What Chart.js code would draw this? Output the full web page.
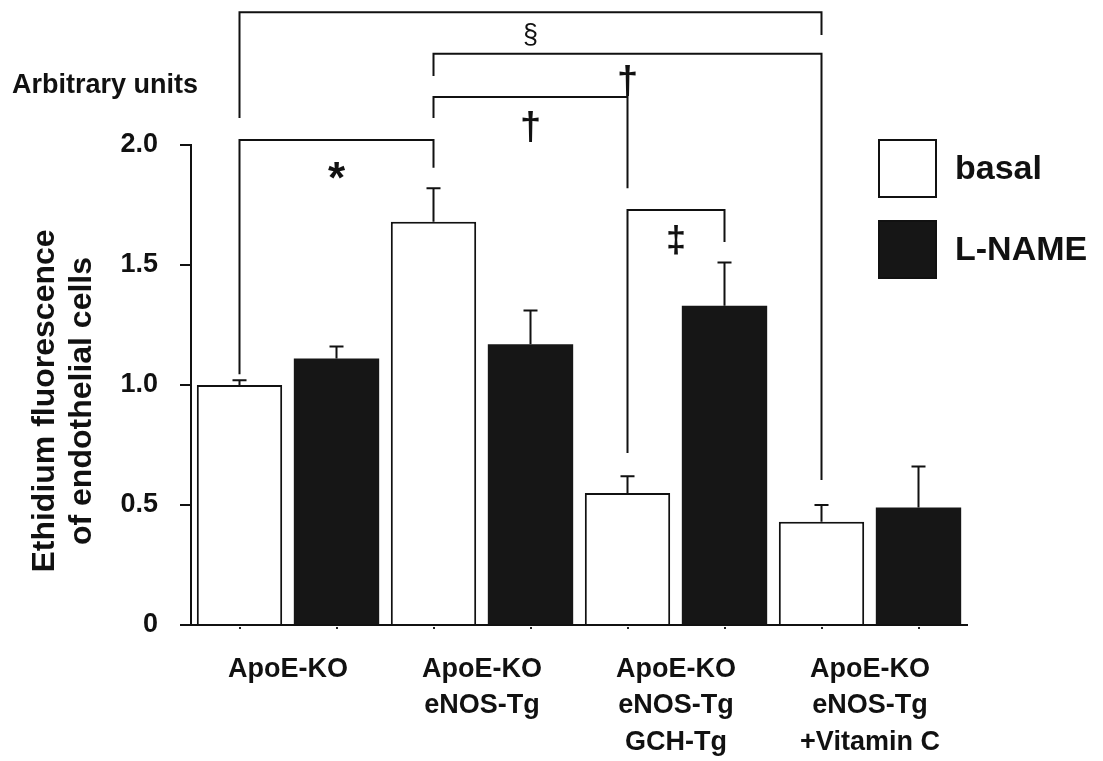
<!DOCTYPE html>
<html>
<head>
<meta charset="utf-8">
<script src="https://cdn.jsdelivr.net/npm/chart.js@4.4.1/dist/chart.umd.min.js"></script>
<style>
  html, body { margin: 0; padding: 0; background: #fff; }
  #wrap { width: 1103px; height: 761px; }
</style>
</head>
<body>
<div id="wrap"><canvas id="c" width="1103" height="761"></canvas></div>
<script>
// ---- data ----
const categories = [
  ["ApoE-KO"],
  ["ApoE-KO", "eNOS-Tg"],
  ["ApoE-KO", "eNOS-Tg", "GCH-Tg"],
  ["ApoE-KO", "eNOS-Tg", "+Vitamin C"]
];
const seriesNames = ["basal", "L-NAME"];
const basal = [1.00, 1.68, 0.55, 0.43];
const basalErr = [0.02, 0.14, 0.07, 0.07];
const lname = [1.11, 1.17, 1.33, 0.49];
const lnameErr = [0.05, 0.14, 0.18, 0.17];
const yTicks = [0, 0.5, 1.0, 1.5, 2.0];
const yTitle = ["Ethidium fluorescence", "of endothelial cells"];
const unitsLabel = "Arbitrary units";

// significance brackets: from bar [dataset, index] to bar [dataset, index]
const sigMarks = ["§", "†", "†", "*", "‡"];
const sigFrom = [[0, 0], [0, 1], [0, 1], [0, 0], [0, 2]];
const sigTo = [[0, 3], [0, 3], [0, 2], [0, 1], [1, 2]];
// bracket levels in axis units (top line, left leg end, right leg end, mark centre)
const sigLevel = [2.553, 2.380, 2.200, 2.021, 1.729];
const sigLegFrom = [2.112, 2.288, 2.112, 1.045, 0.717];
const sigLegTo = [2.458, 0.604, 1.820, 1.905, 1.596];
const sigMarkAt = [2.455, 2.262, 2.070, 1.885, 1.596];

const FONT = "'Liberation Sans', Arial, Helvetica, sans-serif";

const errorBars = {
  id: 'errorBars',
  afterDatasetsDraw(chart) {
    const ctx = chart.ctx;
    const ys = chart.scales.y;
    chart.data.datasets.forEach((ds, di) => {
      const meta = chart.getDatasetMeta(di);
      meta.data.forEach((bar, i) => {
        const top = ys.getPixelForValue(ds.data[i] + ds.errors[i]);
        ctx.save();
        ctx.strokeStyle = '#111';
        ctx.lineWidth = 2;
        ctx.beginPath();
        ctx.moveTo(bar.x, bar.y);
        ctx.lineTo(bar.x, top);
        ctx.moveTo(bar.x - 7, top);
        ctx.lineTo(bar.x + 7, top);
        ctx.stroke();
        ctx.restore();
      });
    });
  }
};

const extras = {
  id: 'extras',
  afterDraw(chart) {
    const ctx = chart.ctx;
    const ys = chart.scales.y;
    const area = chart.chartArea;
    const barX = (p) => chart.getDatasetMeta(p[0]).data[p[1]].x;

    // small tick dots under each bar
    ctx.save();
    ctx.fillStyle = '#222';
    chart.data.datasets.forEach((ds, di) => {
      chart.getDatasetMeta(di).data.forEach(bar => {
        ctx.fillRect(Math.round(bar.x) - 1, area.bottom + 2, 2, 2);
      });
    });
    ctx.restore();

    // brackets
    ctx.save();
    ctx.strokeStyle = '#111';
    ctx.lineWidth = 2;
    ctx.fillStyle = '#111';
    ctx.textAlign = 'center';
    ctx.textBaseline = 'middle';
    for (let k = 0; k < sigMarks.length; k++) {
      const x1 = barX(sigFrom[k]);
      const x2 = barX(sigTo[k]);
      const yL = ys.getPixelForValue(sigLevel[k]);
      const y1 = ys.getPixelForValue(sigLegFrom[k]);
      const y2 = ys.getPixelForValue(sigLegTo[k]);
      ctx.beginPath();
      ctx.moveTo(x1, y1);
      ctx.lineTo(x1, yL);
      ctx.lineTo(x2, yL);
      ctx.lineTo(x2, y2);
      ctx.stroke();
      const m = sigMarks[k];
      let f = 'bold 38px ' + FONT;
      if (m === '‡') f = 'bold 36px ' + FONT;
      if (m === '§') f = '27px ' + FONT;
      if (m === '*') f = 'bold 44px ' + FONT;
      ctx.font = f;
      const my = ys.getPixelForValue(sigMarkAt[k]) + (m === '*' ? 8 : 0);
      ctx.fillText(m, (x1 + x2) / 2, my);
    }
    ctx.restore();

    // "Arbitrary units"
    ctx.save();
    ctx.fillStyle = '#111';
    ctx.font = 'bold 27px ' + FONT;
    ctx.textAlign = 'left';
    ctx.textBaseline = 'middle';
    ctx.fillText(unitsLabel, 12, 86);
    ctx.restore();

    // y axis title (rotated, two lines)
    ctx.save();
    ctx.fillStyle = '#111';
    ctx.font = 'bold 32px ' + FONT;
    ctx.textAlign = 'center';
    ctx.textBaseline = 'middle';
    ctx.translate(45, 401);
    ctx.rotate(-Math.PI / 2);
    ctx.fillText(yTitle[0], 0, 0);
    ctx.fillText(yTitle[1], 0, 37);
    ctx.restore();

    // legend
    ctx.save();
    chart.data.datasets.forEach((ds, di) => {
      const bx = 879, by = 140 + di * 81, s = 57;
      ctx.fillStyle = ds.backgroundColor;
      ctx.fillRect(bx, by, s, s);
      ctx.strokeStyle = '#111';
      ctx.lineWidth = 2;
      ctx.strokeRect(bx, by, s, s);
      ctx.fillStyle = '#111';
      ctx.font = 'bold 34px ' + FONT;
      ctx.textAlign = 'left';
      ctx.textBaseline = 'middle';
      ctx.fillText(ds.label, 955, by + s / 2 + 1);
    });
    ctx.restore();
  }
};

new Chart(document.getElementById('c'), {
  type: 'bar',
  data: {
    labels: categories,
    datasets: [
      {
        label: seriesNames[0],
        data: basal,
        errors: basalErr,
        backgroundColor: '#ffffff',
        borderColor: '#111111',
        borderWidth: 2,
        borderSkipped: 'bottom'
      },
      {
        label: seriesNames[1],
        data: lname,
        errors: lnameErr,
        backgroundColor: '#161616',
        borderColor: '#161616',
        borderWidth: 0
      }
    ]
  },
  options: {
    responsive: false,
    animation: false,
    devicePixelRatio: 1,
    layout: { padding: { top: 145, right: 136, left: 0, bottom: 0 } },
    categoryPercentage: 1.0,
    barPercentage: 0.88,
    plugins: {
      legend: { display: false },
      tooltip: { enabled: false },
      title: { display: false }
    },
    scales: {
      x: {
        type: 'category',
        grid: { display: false, drawTicks: false },
        border: { display: true, color: '#111', width: 2 },
        ticks: {
          color: '#111',
          font: { family: FONT, size: 27, weight: 'bold', lineHeight: 1.35 },
          padding: 26,
          maxRotation: 0,
          autoSkip: false
        },
        afterFit(scale) { scale.height = 136; }
      },
      y: {
        type: 'linear',
        min: 0,
        max: 2.0,
        afterBuildTicks(scale) { scale.ticks = yTicks.map(v => ({ value: v })); },
        grid: { drawOnChartArea: false, drawTicks: true, tickLength: 11, color: '#111', lineWidth: 2 },
        border: { display: true, color: '#111', width: 2 },
        ticks: {
          color: '#111',
          font: { family: FONT, size: 27, weight: 'bold' },
          padding: 22,
          callback: (v) => (v === 0 ? '0' : v.toFixed(1))
        },
        afterFit(scale) { scale.width = 191; }
      }
    }
  },
  plugins: [errorBars, extras]
});
</script>
</body>
</html>
